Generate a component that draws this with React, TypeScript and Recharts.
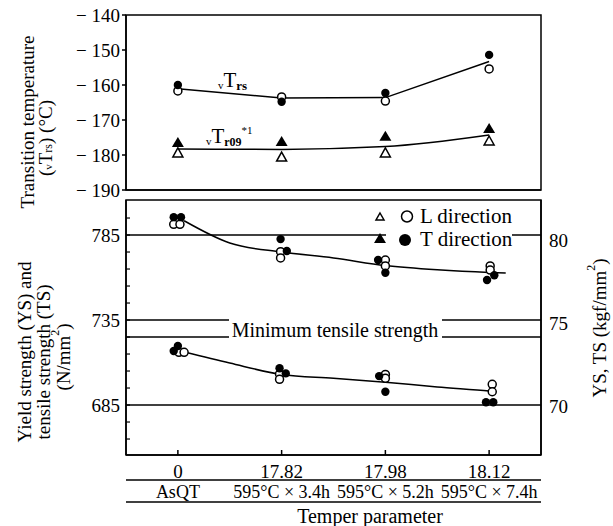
import React from 'react';
import {
    ComposedChart,
    Line,
    Scatter,
    XAxis,
    YAxis,
    ReferenceLine,
    ReferenceArea,
    Legend,
} from 'recharts';

const FONT = 'Liberation Serif';

// x positions of the four heat treatments
const positions = [0, 1, 2, 3];
const temperParams = ['0', '17.82', '17.98', '18.12'];
const conditions = ['AsQT', '595°C × 3.4h', '595°C × 5.2h', '595°C × 7.4h'];

// transition temperature (°C)
const tempTicks = [-190, -180, -170, -160, -150, -140];
const vTrsFit = [-161.1, -163.7, -163.6, -153.3];
const vTrsL = [-161.7, -163.4, -164.6, -155.4];
const vTrsT = [-160.0, -164.8, -162.3, -151.4];
const vTr09Fit = [-178.3, -178.4, -177.6, -174.3];
const vTr09L = [-179.4, -180.6, -179.4, -176.0];
const vTr09T = [-176.6, -176.3, -174.8, -172.6];

// strength (N/mm2), points [x, value]
const strengthLabels = [685, 735, 785];
const strengthTicks = [665, 675, 685, 695, 705, 715, 725, 735, 745, 755, 765, 775, 785, 795];
const kgfTicks = [70, 75, 80];
const minTensile = 725;
const tsL = [[-0.04, 791.3], [0.02, 791.3], [0.99, 775.2], [0.99, 771.5], [2.0, 770.3], [2.0, 766.8], [3.01, 766.8], [3.01, 764.4]];
const tsT = [[-0.04, 795.5], [0.03, 795.5], [0.99, 782.6], [1.05, 775.6], [1.93, 770.3], [2.0, 762.8], [2.98, 758.5], [3.05, 761.3]];
const tsFitX = [0.06, 0.5, 1, 1.5, 2, 2.5, 3, 3.16];
const tsFitY = [793.4, 780.3, 775.0, 771.5, 767.0, 764.5, 763.0, 762.7];
const ysL = [[0.01, 716.0], [0.06, 716.0], [0.98, 703.2], [0.98, 700.1], [2.0, 703.0], [2.0, 700.7], [3.03, 697.2], [3.03, 692.8]];
const ysT = [[0.0, 719.7], [-0.04, 716.8], [0.98, 706.6], [1.04, 703.6], [1.94, 702.0], [2.0, 692.8], [2.97, 686.6], [3.04, 686.6]];
const ysFitX = [0.06, 0.5, 1, 1.5, 2, 2.5, 3, 3.07];
const ysFitY = [716.2, 709.7, 703.0, 700.8, 698.4, 695.6, 693.2, 692.8];

const rows = (ys: number[]) => positions.map((x, i) => ({ x, y: ys[i] }));
const pairs = (p: number[][]) => p.map(([x, y]) => ({ x, y }));
const curve = (xs: number[], ys: number[]) => xs.map((x, i) => ({ x, y: ys[i] }));

const OpenCircle = (p: any) => <circle cx={p.cx} cy={p.cy} r={4} fill="#fff" stroke="#000" strokeWidth={1.5} />;
const FilledCircle = (p: any) => <circle cx={p.cx} cy={p.cy} r={4.2} fill="#000" />;
const OpenTri = (p: any) => (
    <path d={`M${p.cx},${p.cy - 5} L${p.cx + 5},${p.cy + 4} L${p.cx - 5},${p.cy + 4} Z`} fill="#fff" stroke="#000" strokeWidth={1.5} />
);
const FilledTri = (p: any) => (
    <path d={`M${p.cx},${p.cy - 6} L${p.cx + 6},${p.cy + 4} L${p.cx - 6},${p.cy + 4} Z`} fill="#000" />
);

// tick renderers, so the serif face is used
const yTick = (fmt: (v: number) => string, anchor: string) => (p: any) => (
    <text x={p.x} y={p.y} textAnchor={anchor} dominantBaseline="central" fontFamily={FONT} fontSize={19} fill="#000">
        {fmt(p.payload.value)}
    </text>
);
const strengthTick = (p: any) =>
    strengthLabels.includes(p.payload.value) ? (
        <text x={p.x} y={p.y} textAnchor="end" dominantBaseline="central" fontFamily={FONT} fontSize={19} fill="#000">
            {p.payload.value}
        </text>
    ) : <g />;
const xTick = (labels: string[], size: number) => (p: any) => (
    <text x={p.x} y={p.y} dy="0.72em" textAnchor="middle" fontFamily={FONT} fontSize={size} fill="#000">
        {labels[p.payload.value]}
    </text>
);

const vTrsLabel = (p: any) =>
    p.index === 0 ? (
        <text x={p.x + 40} y={p.y - 2} fontFamily={FONT} fontSize={20} fill="#000">
            <tspan fontSize={11} dy={2}>v</tspan>
            <tspan fontSize={21} dy={-2}>T</tspan>
            <tspan fontSize={13} dy={3} fontWeight="bold">rs</tspan>
        </text>
    ) : null;

const vTr09Label = (p: any) =>
    p.index === 0 ? (
        <text x={p.x + 28} y={p.y - 6} fontFamily={FONT} fontSize={20} fill="#000">
            <tspan fontSize={11} dy={2}>v</tspan>
            <tspan fontSize={21} dy={-2}>T</tspan>
            <tspan fontSize={12} dy={3} fontWeight="bold">r09</tspan>
            <tspan fontSize={11} dy={-12}>*1</tspan>
        </text>
    ) : null;

const TopTitle = () => (
    <g fontFamily={FONT} fontSize={19} fill="#000">
        <text transform="translate(27,122) rotate(-90)" textAnchor="middle" dominantBaseline="central">
            Transition temperature
        </text>
        <text transform="translate(45,138) rotate(-90)" textAnchor="middle" dominantBaseline="central">
            (<tspan fontSize={11} dy={3}>v</tspan><tspan dy={-3}>T</tspan><tspan fontSize={12} dy={3}>rs</tspan><tspan dy={-3}>) (°C)</tspan>
        </text>
    </g>
);

const BottomTitle = () => (
    <g fontFamily={FONT} fontSize={19} fill="#000">
        <text transform="translate(24,352) rotate(-90)" textAnchor="middle" dominantBaseline="central">
            Yield strength (YS) and
        </text>
        <text transform="translate(43,362) rotate(-90)" textAnchor="middle" dominantBaseline="central">
            tensile strength (TS)
        </text>
        <text transform="translate(63,357) rotate(-90)" textAnchor="middle" dominantBaseline="central">
            (N/mm<tspan fontSize={12} dy={-8}>2</tspan><tspan dy={8}>)</tspan>
        </text>
    </g>
);

const RightTitle = () => (
    <text transform="translate(599,328) rotate(-90)" textAnchor="middle" dominantBaseline="central" fontFamily={FONT} fontSize={19} fill="#000">
        YS, TS (kgf/mm<tspan fontSize={12} dy={-8}>2</tspan><tspan dy={8}>)</tspan>
    </text>
);

const MinLabel = () => (
    <g>
        <rect x={229} y={316} width={213} height={26} fill="#fff" />
        <text x={335} y={337} textAnchor="middle" fontFamily={FONT} fontSize={20} fill="#000">
            Minimum tensile strength
        </text>
    </g>
);

const TemperTitle = () => (
    <text x={370} y={516} textAnchor="middle" dominantBaseline="central" fontFamily={FONT} fontSize={20} fill="#000">
        Temper parameter
    </text>
);

const LegendBox = () => (
    <div style={{ fontFamily: FONT, fontSize: 21, lineHeight: '23px', color: '#000' }}>
        <div style={{ display: 'flex', alignItems: 'center', height: 23 }}>
            <svg width={48} height={23}>
                <path d="M8,8 L12,15 L4,15 Z" fill="#fff" stroke="#000" strokeWidth={1.5} />
                <circle cx={35} cy={11.5} r={5.5} fill="#fff" stroke="#000" strokeWidth={1.5} />
            </svg>
            <span>L direction</span>
        </div>
        <div style={{ display: 'flex', alignItems: 'center', height: 23 }}>
            <svg width={48} height={23}>
                <rect x={14} y={0} width={34} height={23} fill="#fff" />
                <path d="M8,5 L14,15 L2,15 Z" fill="#000" />
                <circle cx={33} cy={12} r={6} fill="#000" />
            </svg>
            <span style={{ background: '#fff' }}>T direction</span>
        </div>
    </div>
);

const axisStroke = { stroke: '#000', strokeWidth: 1.5 };

const App = () => {
    return (
        <div style={{ position: 'absolute', left: 0, top: 0, width: 613, height: 526, background: '#fff', fontFamily: FONT }}>
            <div style={{ position: 'absolute', left: 0, top: 0 }}>
                <ComposedChart width={613} height={230} margin={{ top: 15, right: 72, bottom: 30, left: 0 }}>
                    <XAxis type="number" dataKey="x" domain={[-0.5, 3.5]} ticks={positions} allowDataOverflow
                        tick={false} tickSize={-4} height={10} axisLine={axisStroke} tickLine={axisStroke} />
                    <YAxis type="number" domain={[-190, -140]} ticks={tempTicks} allowDataOverflow width={126}
                        tickSize={4} tickMargin={2} interval={0} tick={yTick((v) => `− ${-v}`, 'end')}
                        axisLine={axisStroke} tickLine={axisStroke} label={TopTitle} />
                    <ReferenceArea x1={-0.5} x2={3.5} y1={-190} y2={-140} fill="none" stroke="#000" strokeWidth={1.5} />
                    <Line data={rows(vTrsFit)} dataKey="y" type="linear" stroke="#000" strokeWidth={1.5}
                        dot={false} isAnimationActive={false} label={vTrsLabel} />
                    <Line data={rows(vTr09Fit)} dataKey="y" type="monotone" stroke="#000" strokeWidth={1.5}
                        dot={false} isAnimationActive={false} label={vTr09Label} />
                    <Scatter data={rows(vTrsL)} dataKey="y" shape={OpenCircle} isAnimationActive={false} />
                    <Scatter data={rows(vTrsT)} dataKey="y" shape={FilledCircle} isAnimationActive={false} />
                    <Scatter data={rows(vTr09L)} dataKey="y" shape={OpenTri} isAnimationActive={false} />
                    <Scatter data={rows(vTr09T)} dataKey="y" shape={FilledTri} isAnimationActive={false} />
                </ComposedChart>
            </div>
            <div style={{ position: 'absolute', left: 0, top: 0 }}>
                <ComposedChart width={613} height={526} margin={{ top: 200, right: 0, bottom: 0, left: 0 }}>
                    <XAxis xAxisId={0} type="number" dataKey="x" domain={[-0.5, 3.5]} ticks={positions} allowDataOverflow
                        height={25} tickSize={-5} tickMargin={14} interval={0} tick={xTick(temperParams, 19)}
                        axisLine={axisStroke} tickLine={axisStroke} />
                    <XAxis xAxisId="cond" type="number" dataKey="x" domain={[-0.5, 3.5]} ticks={positions} allowDataOverflow
                        height={22} tickSize={0} tickMargin={5} interval={0} tick={xTick(conditions, 18)} tickLine={false}
                        axisLine={axisStroke} />
                    <XAxis xAxisId="title" type="number" dataKey="x" domain={[-0.5, 3.5]} allowDataOverflow
                        height={24} tick={false} tickLine={false} axisLine={axisStroke} label={TemperTitle} />
                    <YAxis yAxisId={0} type="number" domain={[655.6, 805.6]} ticks={strengthTicks} allowDataOverflow
                        width={126} tickSize={-4} tickMargin={10} interval={0} tick={strengthTick}
                        axisLine={axisStroke} tickLine={{ stroke: '#000', strokeWidth: 1.2 }} label={BottomTitle} />
                    <YAxis yAxisId="kgf" orientation="right" type="number" domain={[67.1, 82.4]} ticks={kgfTicks}
                        allowDataOverflow width={72} tickSize={0} tickMargin={8} interval={0}
                        tick={yTick((v) => String(v), 'start')} tickLine={false}
                        axisLine={axisStroke} label={RightTitle} />
                    {strengthLabels.map((v) => (
                        <ReferenceLine key={v} y={v} stroke="#000" strokeWidth={1.5} />
                    ))}
                    <ReferenceArea x1={-0.5} x2={3.5} y1={655.6} y2={805.6} fill="none" stroke="#000" strokeWidth={1.5} />
                    <ReferenceLine y={minTensile} stroke="#000" strokeWidth={1.5} label={MinLabel} />
                    <Line data={curve(tsFitX, tsFitY)} dataKey="y" type="monotone" stroke="#000" strokeWidth={1.5}
                        dot={false} isAnimationActive={false} />
                    <Line data={curve(ysFitX, ysFitY)} dataKey="y" type="monotone" stroke="#000" strokeWidth={1.5}
                        dot={false} isAnimationActive={false} />
                    <Scatter data={pairs(tsL)} dataKey="y" shape={OpenCircle} isAnimationActive={false} />
                    <Scatter data={pairs(tsT)} dataKey="y" shape={FilledCircle} isAnimationActive={false} />
                    <Scatter data={pairs(ysL)} dataKey="y" shape={OpenCircle} isAnimationActive={false} />
                    <Scatter data={pairs(ysT)} dataKey="y" shape={FilledCircle} isAnimationActive={false} />
                    <Legend layout="vertical" align="center" verticalAlign="middle" content={LegendBox}
                        wrapperStyle={{ left: 372, top: 205, width: 150, height: 46 }} />
                </ComposedChart>
            </div>
        </div>
    );
};

export default App;
